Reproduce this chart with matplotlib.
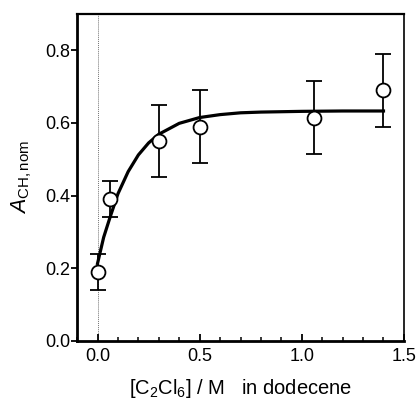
import numpy as np
import matplotlib.pyplot as plt
from matplotlib.ticker import MultipleLocator

plt.rcParams['font.family'] = ['Liberation Sans', 'DejaVu Sans']
plt.rcParams['mathtext.fontset'] = 'custom'
plt.rcParams['mathtext.rm'] = 'Liberation Sans'
plt.rcParams['mathtext.it'] = 'Liberation Sans:italic'

#%% Messwerte
conc = [0.0, 0.06, 0.30, 0.50, 1.06, 1.40]        # [C2Cl6] / M
a_ch = [0.19, 0.39, 0.55, 0.59, 0.615, 0.69]      # A_CH,nom
err = [0.05, 0.05, 0.10, 0.10, 0.10, 0.10]

#%% Fitkurve
fit_x = [0.0, 0.03, 0.06, 0.10, 0.15, 0.20, 0.25, 0.30, 0.40, 0.50,
         0.60, 0.70, 0.80, 1.00, 1.20, 1.40]
fit_y = [0.213, 0.285, 0.338, 0.405, 0.466, 0.512, 0.545, 0.569, 0.599,
         0.615, 0.623, 0.628, 0.630, 0.632, 0.633, 0.633]

fig = plt.figure(figsize=(4.19, 4.01), dpi=100)
ax = fig.add_axes([0.184, 0.150, 0.780, 0.815])

ax.axvline(0, color='0.45', lw=0.7, ls=(0, (1, 1)), zorder=1)
ax.plot(fit_x, fit_y, color='black', lw=2.3, zorder=2)
ax.errorbar(conc, a_ch, yerr=err, fmt='o', color='black', ecolor='black',
            elinewidth=1.3, capsize=5.5, capthick=1.3, ms=10,
            mfc='white', mec='black', mew=1.3, zorder=3)

ax.set_xlim(-0.1, 1.5)
ax.set_ylim(0, 0.9)
ax.set_xticks([0.0, 0.5, 1.0, 1.5])
ax.set_yticks([0.0, 0.2, 0.4, 0.6, 0.8])
ax.xaxis.set_minor_locator(MultipleLocator(0.1))
ax.tick_params(axis='x', which='major', direction='in', length=5, width=1.3,
               labelsize=13, pad=5)
ax.tick_params(axis='x', which='minor', direction='in', length=3, width=1.1)
ax.tick_params(axis='y', which='major', direction='out', length=4, width=1.3,
               labelsize=13, pad=1)

ax.spines['left'].set_linewidth(2.0)
ax.spines['bottom'].set_linewidth(2.0)
ax.spines['top'].set_linewidth(1.6)
ax.spines['right'].set_linewidth(1.2)

ax.set_xlabel('[C$_2$Cl$_6$] / M   in dodecene', fontsize=14.5, labelpad=9)
ax.set_ylabel('$A_{\\mathrm{CH,nom}}$', fontsize=15.5, labelpad=8)

fig.savefig('out.png', dpi=100)
